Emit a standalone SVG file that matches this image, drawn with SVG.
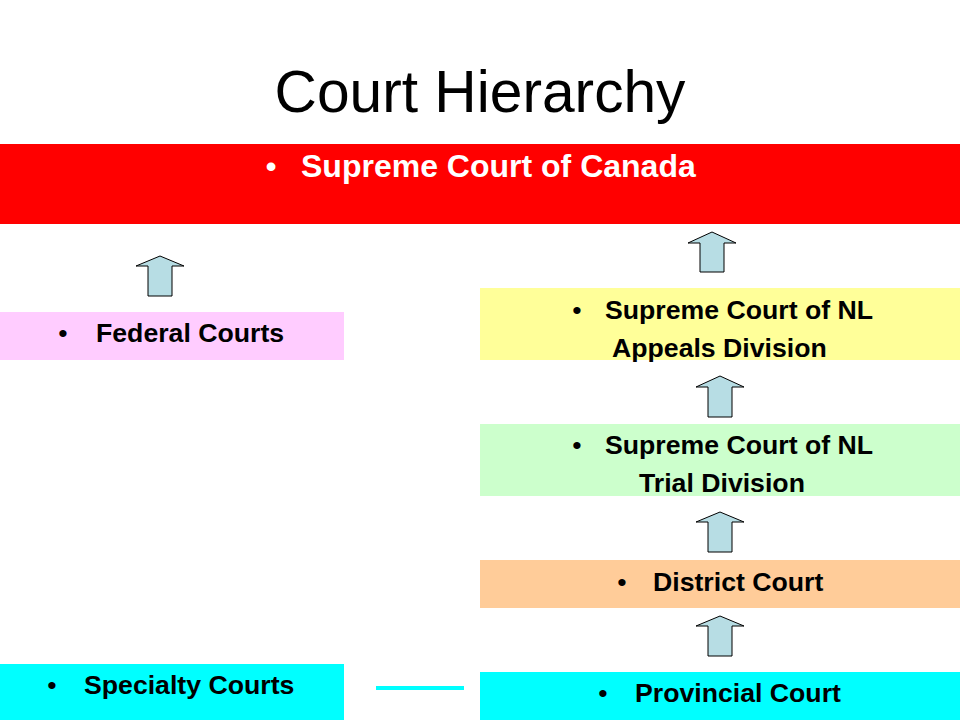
<svg xmlns="http://www.w3.org/2000/svg" width="960" height="720" viewBox="0 0 960 720">
<style>
text{font-family:"Liberation Sans",Arial,sans-serif;}
.lbl{font-weight:bold;font-size:26.67px;fill:#000;}
.bul{font-size:26.67px;fill:#000;text-anchor:middle;}
.arrow{fill:#B7DDE4;stroke:#000;stroke-width:1;}
</style>
<rect width="960" height="720" fill="#fff"/>
<text x="480" y="112" font-size="58.7" text-anchor="middle" fill="#000">Court Hierarchy</text>
<g id="supreme-canada">
<rect x="0" y="144" width="960" height="80" fill="#FF0000"/>
<text x="271" y="177" font-size="32" text-anchor="middle" fill="#fff">•</text>
<text x="301" y="177" font-size="32" font-weight="bold" fill="#fff">Supreme Court of Canada</text>
</g>
<g id="federal">
<rect x="0" y="312" width="344" height="48" fill="#FFCCFF"/>
<text class="bul" x="63" y="342">•</text>
<text class="lbl" x="96" y="342">Federal Courts</text>
</g>
<g id="appeals">
<rect x="480" y="288" width="480" height="72" fill="#FFFF99"/>
<text class="bul" x="577" y="319">•</text>
<text class="lbl" x="605" y="319">Supreme Court of NL</text>
<text class="lbl" x="612" y="357">Appeals Division</text>
</g>
<g id="trial">
<rect x="480" y="424" width="480" height="72" fill="#CCFFCC"/>
<text class="bul" x="577" y="454">•</text>
<text class="lbl" x="605" y="454">Supreme Court of NL</text>
<text class="lbl" x="639" y="492">Trial Division</text>
</g>
<g id="district">
<rect x="480" y="560" width="480" height="48" fill="#FFCC99"/>
<text class="bul" x="622" y="591">•</text>
<text class="lbl" x="653" y="591">District Court</text>
</g>
<g id="specialty">
<rect x="0" y="664" width="344" height="56" fill="#00FFFF"/>
<text class="bul" x="52" y="694">•</text>
<text class="lbl" x="84" y="694">Specialty Courts</text>
</g>
<g id="provincial">
<rect x="480" y="672" width="480" height="48" fill="#00FFFF"/>
<text class="bul" x="603" y="702">•</text>
<text class="lbl" x="635" y="702">Provincial Court</text>
</g>
<g id="connectors">
<path class="arrow" d="M160 256 L184 266 L172 266 L172 296 L148 296 L148 266 L136 266 Z"/>
<path class="arrow" d="M712 232 L736 243 L724 243 L724 272 L700 272 L700 243 L688 243 Z"/>
<path class="arrow" d="M720 376 L744 387 L732 387 L732 417 L708 417 L708 387 L696 387 Z"/>
<path class="arrow" d="M720 512 L744 522 L732 522 L732 552 L708 552 L708 522 L696 522 Z"/>
<path class="arrow" d="M720 616 L744 626 L732 626 L732 656 L708 656 L708 626 L696 626 Z"/>
<line x1="376" y1="688" x2="464" y2="688" stroke="#00FFFF" stroke-width="4"/>
</g>
</svg>
